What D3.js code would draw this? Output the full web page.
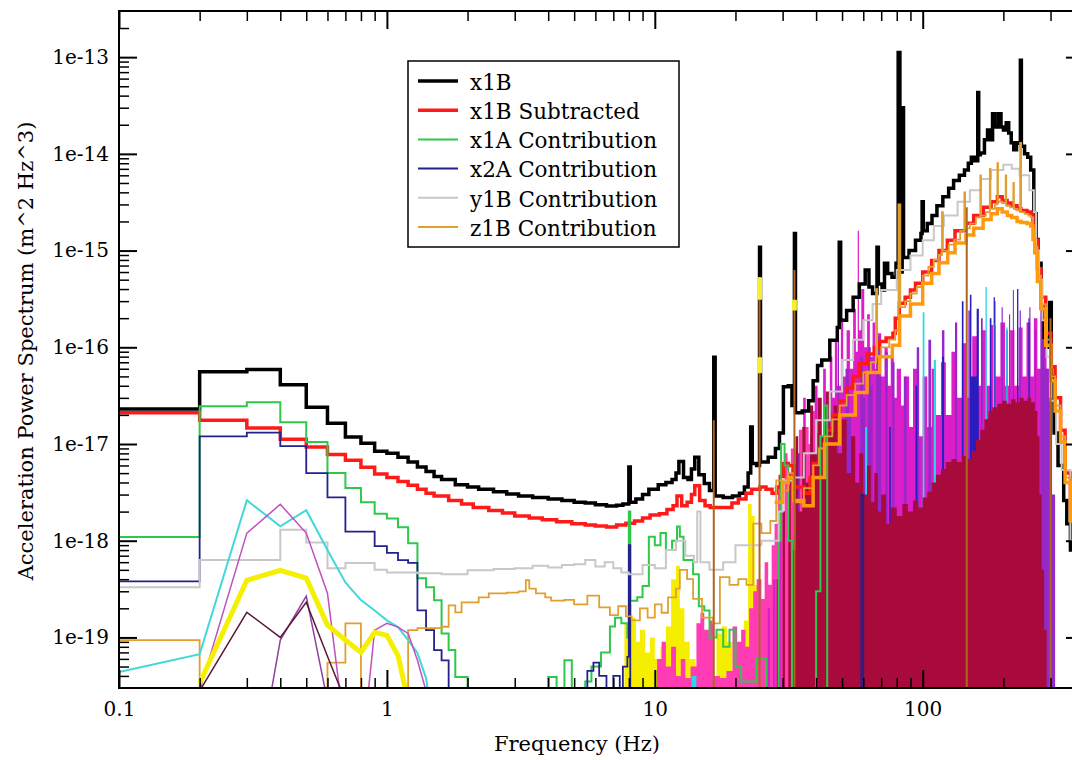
<!DOCTYPE html>
<html>
<head>
<meta charset="utf-8">
<title>Acceleration Power Spectrum</title>
<script src="https://d3js.org/d3.v7.min.js"></script>
<style>
  body { margin: 0; background: #fff; }
  svg { display: block; font-family: "DejaVu Serif", serif; }
</style>
</head>
<body>
<svg id="chart" width="1072" height="760"></svg>
<script>
// ---- data: [frequency Hz, power m^2 Hz^3] ----
const x1B = [[0.1,2.3e-17],[0.2,5.6e-17],[0.3,5.9e-17],[0.4,4.1e-17],[0.5,2.4e-17],[0.6,1.64e-17],[0.7,1.18e-17],[0.8,1.02e-17],[0.9,8.4e-18],[1.0,8.0e-18],[1.1,7.3e-18],[1.2,6.5e-18],[1.3,5.8e-18],[1.4,5.2e-18],[1.5,4.6e-18],[1.6,4.3e-18],[1.8,3.8e-18],[2.0,3.6e-18],[2.2,3.4e-18],[2.5,3.2e-18],[2.8,3.05e-18],[3.1,2.9e-18],[3.5,2.8e-18],[4.0,2.7e-18],[4.5,2.6e-18],[5.0,2.5e-18],[5.5,2.45e-18],[6.0,2.35e-18],[6.6,2.28e-18],[7.2,2.33e-18],[7.6,2.4e-18],[8.0,5.8e-18],[8.1,2.5e-18],[8.5,2.7e-18],[9.0,3.0e-18],[9.5,3.4e-18],[10.3,3.8e-18],[11.0,4.0e-18],[11.6,4.3e-18],[12.0,5.0e-18],[12.3,6.6e-18],[12.8,4.5e-18],[13.3,4.3e-18],[13.7,5.5e-18],[14.1,7.3e-18],[14.6,4.8e-18],[15.3,3.9e-18],[16.0,3.3e-18],[16.6,7.9e-17],[16.8,2.9e-18],[18.0,2.8e-18],[19.5,2.9e-18],[20.7,3.1e-18],[21.6,3.6e-18],[22.3,5.0e-18],[22.8,1.5e-17],[23.1,6.3e-18],[24.0,6.0e-18],[24.6,1.08e-15],[24.8,6.5e-18],[26.5,7.3e-18],[28.2,9.0e-18],[29.2,1.3e-17],[30.2,3.9e-17],[31.5,4.0e-17],[32.5,2.5e-17],[33.2,1.5e-15],[33.5,2.1e-17],[35.5,2.2e-17],[37.5,2.8e-17],[39.0,4.5e-17],[40.5,6.5e-17],[42.0,7.4e-17],[45.0,1.18e-16],[48.0,1.6e-16],[48.8,1.22e-15],[49.4,1.9e-16],[52,2.4e-16],[55,3.3e-16],[58,4.5e-16],[61,6.3e-16],[63,4.2e-16],[65,3.6e-16],[67.5,1.08e-15],[68.3,4.5e-16],[70.5,3.9e-16],[72,7.4e-16],[74,5.8e-16],[76.8,5.3e-16],[79.5,7.4e-16],[81.0,1.12e-13],[82.2,6.0e-16],[83.8,3.0e-14],[84.8,8.5e-16],[88.9,1.0e-15],[94,1.28e-15],[98.5,1.5e-15],[99.5,3.2e-15],[100.5,1.6e-15],[104,1.9e-15],[108.3,2.3e-15],[113,2.9e-15],[118.9,3.6e-15],[125,4.4e-15],[130.4,5.3e-15],[137,6.0e-15],[143.2,6.8e-15],[148,8.0e-15],[151.9,9.2e-15],[156,8.5e-15],[160.5,4.3e-14],[161.8,9.8e-15],[164,1.02e-14],[170,1.4e-14],[174.6,1.76e-14],[178,1.4e-14],[182.3,2.6e-14],[186,1.9e-14],[191.8,2.6e-14],[196,1.9e-14],[200.2,1.76e-14],[205,2.1e-14],[209.4,1.64e-14],[214,1.3e-14],[218.7,1.1e-14],[224,1.3e-14],[228.5,1.29e-14],[231.5,9.3e-14],[233.5,1.2e-14],[240,1.0e-14],[246.6,9.2e-15],[253,6.8e-15],[259.8,2.4e-15],[265,1.3e-15],[269.2,7.4e-16],[276.5,2.6e-16],[283.8,1.26e-16],[290,1.0e-16],[298,2.9e-16],[302,5.0e-17],[309.4,1.3e-17],[320,6.0e-18],[336,2.6e-18],[345,1.5e-18],[356,8e-19],[400,8e-19]];

const x1BSub = [[0.1,2.1e-17],[0.2,1.76e-17],[0.3,1.46e-17],[0.4,1.12e-17],[0.5,9.3e-18],[0.6,7.8e-18],[0.7,6.8e-18],[0.8,5.75e-18],[0.9,4.9e-18],[1.0,4.5e-18],[1.1,4.1e-18],[1.2,3.75e-18],[1.3,3.4e-18],[1.4,3.1e-18],[1.5,2.9e-18],[1.7,2.6e-18],[1.9,2.4e-18],[2.1,2.2e-18],[2.4,2.05e-18],[2.7,1.93e-18],[3.0,1.8e-18],[3.4,1.72e-18],[3.8,1.65e-18],[4.3,1.57e-18],[4.9,1.5e-18],[5.5,1.45e-18],[6.0,1.42e-18],[6.6,1.39e-18],[7.2,1.45e-18],[7.8,1.52e-18],[8.4,1.6e-18],[9.0,1.72e-18],[9.6,1.85e-18],[10.4,1.9e-18],[11.1,2.1e-18],[11.7,2.3e-18],[12.1,2.9e-18],[12.6,2.3e-18],[13.2,2.5e-18],[13.7,3.0e-18],[14.1,3.7e-18],[14.7,2.6e-18],[15.4,2.3e-18],[16.1,2.2e-18],[17.5,2.2e-18],[19.4,2.45e-18],[20.5,2.7e-18],[21.9,3.1e-18],[23.0,3.4e-18],[24.7,3.6e-18],[26.0,3.4e-18],[27.4,3.1e-18],[28.5,3.6e-18],[29.4,4.6e-18],[30.2,6.3e-18],[31.5,6.0e-18],[33.0,3.6e-18],[36.1,3.1e-18],[38.0,4.5e-18],[39.0,6.3e-18],[41.0,9.0e-18],[43.2,1.39e-17],[46.0,2.0e-17],[49.2,2.8e-17],[52.0,3.8e-17],[55.0,5.0e-17],[58.0,6.8e-17],[62.0,8.5e-17],[66.0,1.0e-16],[69.0,1.15e-16],[73.0,1.25e-16],[77.4,1.4e-16],[79.0,2.0e-16],[81.8,2.86e-16],[86.0,3.3e-16],[90.0,3.9e-16],[94.0,4.6e-16],[100,6.0e-16],[108,7.9e-16],[115,1.0e-15],[123.6,1.28e-15],[132,1.6e-15],[144.8,1.92e-15],[155,2.3e-15],[168.4,2.8e-15],[180,3.2e-15],[190,3.6e-15],[198,3.3e-15],[206.5,3.1e-15],[215,2.9e-15],[225,2.7e-15],[232.5,2.6e-15],[245,2.5e-15],[253,2.4e-15],[258,1.8e-15],[262,1.28e-15],[268,6.5e-16],[276.5,3.3e-16],[288,1.4e-16],[301,6.3e-17],[312,3.0e-17],[327,1.39e-17],[340,5.0e-18],[356,2.2e-18],[400,2.2e-18]];

const x1A = [[0.1,1.09e-18],[0.2,2.46e-17],[0.3,2.7e-17],[0.4,1.68e-17],[0.5,1.05e-17],[0.6,5.0e-18],[0.7,3.5e-18],[0.8,2.5e-18],[0.9,1.9e-18],[1.0,1.7e-18],[1.1,1.38e-18],[1.2,9.4e-19],[1.3,4.1e-19],[1.4,3.3e-19],[1.5,2.43e-19],[1.6,1.1e-19],[1.7,7.4e-20],[1.8,3.9e-20],[2.0,1e-21],[4.0,3.9e-20],[4.3,1e-21],[4.6,5.8e-20],[4.9,1e-21],[5.5,3.5e-20],[5.8,5.0e-20],[6.3,7.0e-20],[6.8,1.3e-19],[7.1,1.6e-19],[7.5,1.4e-19],[7.9,1.0e-19],[8.0,2.0e-18],[8.1,2.4e-19],[8.6,2.6e-19],[9.0,3.4e-19],[9.5,1.1e-18],[10.0,9.0e-19],[10.5,1.2e-18],[11.0,8.0e-19],[11.6,1.0e-18],[12.1,1.4e-18],[12.4,1.1e-18],[12.8,6.3e-19],[13.3,6.3e-19],[13.9,4.5e-19],[14.6,2.1e-19],[15.3,1.9e-19],[16.0,1.0e-19],[17.0,1.2e-19],[18.0,8.0e-20],[19.0,1.2e-19],[20.0,5.0e-20],[21.0,3.5e-20],[24.0,6.0e-20],[26.0,1e-21],[29.0,1.0e-18],[29.6,1.0e-17],[30.5,6.0e-18],[31.5,1.0e-18],[32.5,1e-21],[40.0,3.0e-19],[41.5,1.2e-17],[42.8,2.5e-17],[44.0,1e-21]];

const x2A = [[0.1,3.8e-19],[0.2,1.2e-17],[0.3,1.31e-17],[0.4,9.5e-18],[0.5,5.0e-18],[0.6,2.8e-18],[0.7,1.24e-18],[0.8,1.24e-18],[0.9,8.8e-19],[1.0,7.5e-19],[1.1,6.3e-19],[1.2,5.9e-19],[1.3,1.9e-19],[1.4,1.19e-19],[1.5,7.4e-20],[1.6,5.8e-20],[1.7,1e-21],[5.6,4.5e-20],[5.9,5.5e-20],[6.2,4.0e-20],[6.6,1e-21],[7.0,4.0e-20],[7.4,1e-21],[7.6,5.0e-20],[7.9,6.3e-20],[8.0,9.0e-19],[8.1,1e-21],[58,1e-21],[59,3e-18],[60,1e-21]];

const y1B = [[0.1,3.3e-19],[0.2,6.3e-19],[0.4,1.3e-18],[0.5,9.6e-19],[0.6,5.2e-19],[0.7,5.9e-19],[0.9,5.0e-19],[1.0,4.7e-19],[1.3,4.6e-19],[1.6,4.5e-19],[2.0,4.95e-19],[2.5,5.1e-19],[3.0,5.2e-19],[3.5,5.5e-19],[4.0,5.3e-19],[4.5,5.6e-19],[5.0,5.7e-19],[5.5,6.3e-19],[6.0,5.4e-19],[6.5,6.0e-19],[7.0,5.2e-19],[7.5,4.7e-19],[8.0,4.5e-19],[9.0,5.6e-19],[10.0,5.2e-19],[11.0,8.0e-19],[12.0,1.0e-18],[13.0,7.0e-19],[14.0,6.0e-19],[14.4,2.0e-18],[14.8,6.0e-19],[16.0,5.0e-19],[18.0,6.0e-19],[20.0,9.0e-19],[25.0,1.0e-18],[29.0,2.0e-18],[30.0,4.2e-18],[33.0,4.5e-18],[36.0,8.0e-18],[40.0,1.76e-17],[45.0,3.5e-17],[50.0,7.4e-17],[55.0,1.2e-16],[60.0,1.9e-16],[65.0,2.8e-16],[70.0,3.9e-16],[80.0,6.3e-16],[90.0,8.9e-16],[100,1.28e-15],[110,1.8e-15],[120,2.3e-15],[135,3.2e-15],[150,4.2e-15],[165,5.5e-15],[180,6.8e-15],[200,7.7e-15],[215,7.0e-15],[230,6.0e-15],[250,4.2e-15],[260,2.5e-15],[265,1.0e-15],[272,5.0e-16],[280,1.9e-16],[290,8.0e-17],[300,2.8e-17],[315,1.0e-17],[330,5.4e-18],[356,1.0e-18],[400,1.0e-18]];

const z1B = [[0.1,9.4e-20],[0.2,1e-21],[0.6,5.5e-20],[0.7,1.4e-19],[0.8,1e-21],[1.2,1.19e-19],[1.3,1.25e-19],[1.6,1.29e-19],[1.7,2.15e-19],[1.8,1.82e-19],[1.9,2.3e-19],[2.2,2.6e-19],[2.4,2.86e-19],[2.8,2.9e-19],[3.1,3.0e-19],[3.3,3.9e-19],[3.4,3.2e-19],[3.6,2.86e-19],[3.9,2.6e-19],[4.1,2.4e-19],[4.6,2.45e-19],[5.0,2.2e-19],[5.6,2.7e-19],[6.2,2.05e-19],[6.8,1.7e-19],[7.3,2.1e-19],[7.8,1.65e-19],[8.2,1.5e-19],[8.8,2.0e-19],[9.4,1.6e-19],[10.0,2.2e-19],[10.6,1.8e-19],[11.2,2.6e-19],[12.0,3.2e-19],[12.4,5.0e-19],[13.2,4.0e-19],[13.9,2.5e-19],[15.0,1.6e-19],[16.5,1.4e-19],[17.5,4.2e-19],[19.0,3.5e-19],[20.5,4.0e-19],[22.0,3.5e-19],[23.3,1.5e-18],[25.0,1.2e-18],[27.0,1.6e-18],[28.4,4.2e-18],[30.0,3.3e-18],[31.5,5.0e-18],[33.0,2.5e-18],[36.0,3.5e-18],[39.0,6.0e-18],[41.0,9.0e-18],[43.0,1.2e-17],[46.0,1.8e-17],[49.0,2.5e-17],[52.0,3.2e-17],[56.0,4.2e-17],[60.0,5.5e-17],[64.0,7.0e-17],[67.0,4.0e-16],[67.6,8.0e-17],[70.0,1.0e-16],[75.0,1.2e-16],[79.0,1.5e-16],[81.2,3.0e-15],[82.5,2.6e-16],[86.0,3.0e-16],[90.0,3.6e-16],[95.0,4.2e-16],[100,5.5e-16],[105,6.8e-16],[110,8.0e-16],[115,9.0e-16],[118,2.5e-15],[119,1.0e-15],[125,1.15e-15],[131,1.3e-15],[138,1.6e-15],[143,4.0e-15],[144,1.7e-15],[150,1.9e-15],[158,2.2e-15],[164,6.0e-15],[165,2.3e-15],[172,2.5e-15],[178,7.0e-15],[179,2.7e-15],[186,3.0e-15],[190,8.0e-15],[191,3.2e-15],[198,3.1e-15],[204,6.0e-15],[205,2.9e-15],[212,2.8e-15],[218,5.0e-15],[219,2.7e-15],[226,2.6e-15],[231,1.3e-14],[233,2.5e-15],[240,2.4e-15],[248,2.3e-15],[253,2.2e-15],[258,1.6e-15],[262,1.1e-15],[268,5.5e-16],[276,2.8e-16],[288,1.2e-16],[301,5.0e-17],[312,2.5e-17],[327,1.2e-17],[340,4.5e-18],[356,1.8e-18],[400,1.8e-18]];

// unlabelled contributions
const orangeBand = [[28,2.5e-18],[30,4e-18],[31.5,4.5e-18],[33,2.6e-18],[36,2.3e-18],[39,4.5e-18],[43,1e-17],[49,2e-17],[56,3.4e-17],[62,5.5e-17],[69,8e-17],[77,1.05e-16],[82,2.1e-16],[90,2.8e-16],[100,4.6e-16],[108,5.8e-16],[115,7.5e-16],[124,9.5e-16],[132,1.2e-15],[145,1.45e-15],[155,1.7e-15],[168,2.1e-15],[180,2.4e-15],[190,2.7e-15],[198,2.5e-15],[207,2.3e-15],[215,2.2e-15],[225,2e-15],[233,1.95e-15],[245,1.9e-15],[253,1.8e-15],[258,1.3e-15],[262,9.5e-16],[268,4.8e-16],[276,2.5e-16],[288,1.05e-16],[301,4.5e-17],[312,2.2e-17],[327,1.05e-17],[340,4e-18],[356,1.6e-18],[400,1.6e-18]];
const cyanLine = [[0.1,4.4e-20],[0.2,6.7e-20],[0.3,2.62e-18],[0.4,1.41e-18],[0.5,2.07e-18],[0.6,8.0e-19],[0.7,3.7e-19],[0.8,2.43e-19],[0.9,1.9e-19],[1.0,1.5e-19],[1.1,1.28e-19],[1.2,9.4e-20],[1.3,6.9e-20],[1.4,3.8e-20],[1.5,1e-20]];
const orchidLine = [[0.2,2.8e-20],[0.3,1.2e-18],[0.4,2.38e-18],[0.5,1.2e-18],[0.6,2.86e-19],[0.7,9.5e-21],[0.8,5e-21],[0.9,1.19e-19],[1.0,1.4e-19],[1.1,1.28e-19],[1.2,1.1e-19],[1.3,5.8e-20],[1.4,2.8e-20],[1.5,5e-21]];
const purpleLine = [[0.3,1e-21],[0.4,9.4e-20],[0.5,2.67e-19],[0.6,2.2e-20]];
const darkLine = [[0.2,2.8e-20],[0.3,1.82e-19],[0.4,1.0e-19],[0.5,2.31e-19],[0.6,6.4e-20],[0.7,2.2e-20]];
const yellowLine = [[0.2,3.36e-20],[0.3,3.9e-19],[0.4,4.95e-19],[0.5,4.1e-19],[0.6,1.34e-19],[0.7,9.4e-20],[0.8,7.0e-20],[0.9,1.13e-19],[1.0,1.05e-19],[1.1,6.5e-20],[1.2,2.2e-20]];

const yellowMass = [[7.4,1e-21],[7.7,1.4e-19],[7.9,2.2e-19],[8.2,1.6e-19],[8.5,9e-20],[8.8,1.2e-19],[9.2,7e-20],[9.6,1.0e-19],[10.0,6e-20],[10.5,8e-20],[11.0,1.3e-19],[11.5,4.0e-19],[12.0,5.5e-19],[12.4,2.0e-19],[12.9,9e-20],[13.5,6e-20],[14.2,5e-20],[15.0,8e-20],[15.8,5e-20],[16.6,1e-21],[17.0,1.1e-19],[17.8,1.3e-19],[18.6,9e-20],[19.5,1e-21],[21.5,1.5e-19],[22.3,2.4e-18],[23.0,1.8e-18],[23.6,3.5e-19],[24.4,1e-21],[28.6,2.5e-19],[29.6,1e-21]];
const pinkMass = [[9.8,1e-21],[10.2,6e-20],[10.6,9e-20],[11.0,5e-20],[11.5,8e-20],[12.0,4e-20],[12.5,6e-20],[13.0,3.8e-20],[13.6,5e-20],[14.3,1.4e-19],[14.8,1.8e-19],[15.3,1.2e-19],[16.0,1.5e-19],[16.6,4e-20],[17.5,3.8e-20],[18.5,4.5e-20],[19.5,1.3e-19],[20.3,9e-20],[21.0,1.2e-19],[21.8,8e-20],[22.5,2.0e-19],[23.3,3e-19],[24.0,4e-19],[25.0,2.5e-19],[25.7,6e-19],[26.5,3.5e-19],[27.3,9e-19],[28.0,1.5e-18],[28.8,3.5e-18],[29.6,2.0e-18],[30.5,8e-18],[31.3,4e-18],[32.2,9e-18],[33.5,6e-18],[34.5,1.4e-17],[35.5,8e-18],[36.5,1.5e-17],[37.5,1.0e-17],[38.5,2.2e-17],[40,1.3e-17],[41.5,1e-21]];
const magentaMass = [[26,1e-21],[26.4,2.0e-19],[26.9,1e-21],[27.6,4.0e-19],[28.2,1e-21],[29.0,1.2e-18],[29.7,1e-21],[35.8,3e-17],[36.6,1e-21],[39.5,4e-17],[40.5,1e-21],[42.5,6e-17],[43.5,2.5e-17],[45,8e-17],[46,3e-17],[47,1.2e-16],[48,4e-17],[49.5,2.0e-16],[50.5,5e-17],[52,1.5e-16],[53.5,6e-17],[55,2.5e-16],[56.3,9e-17],[57.2,1.6e-15],[57.8,1.5e-16],[59,4e-16],[60.5,1e-16],[62,2.2e-16],[63.5,8e-17],[65,1.8e-16],[66.5,6e-17],[68,1.4e-16],[70,5e-17],[72,1.0e-16],[74,4e-17],[76,8e-17],[78,3e-17],[80,6e-17],[83,2.5e-17],[86,5e-17],[89,1.5e-17],[92,6e-17],[96,1.2e-17],[100,5e-17],[104,1.5e-17],[108,6e-17],[112,2e-17],[117,7e-17],[122,2e-17],[128,9e-17],[134,3e-17],[140,1.1e-16],[146,3e-17],[153,1.3e-16],[160,4e-17],[166,1.5e-16],[173,4e-17],[180,1.7e-16],[187,5e-17],[195,1.8e-16],[203,4e-17],[212,1.5e-16],[220,4e-17],[228,1.6e-16],[236,5e-17],[244,1.8e-16],[252,5e-17],[260,2.0e-16],[268,6e-17],[276,2.1e-16],[283,1.2e-16],[290,6e-17],[296,1.5e-17],[302,2e-18],[308,1e-21]];
const purpleMass = [[33.5,1e-21],[34,8e-18],[34.8,1e-21],[38,1.2e-17],[38.8,1e-21],[44,2.2e-17],[44.8,1e-21],[48.2,4.9e-16],[48.7,1e-21],[51.5,6e-17],[53,2e-17],[54,1e-21],[58.5,8e-17],[59.8,3e-17],[61,1e-21],[62.5,1e-16],[64,4e-17],[65,1e-21],[67,1.3e-16],[69,5e-17],[70,1e-21],[72.5,9e-17],[74,1e-21],[77,7e-17],[78.5,1e-21],[85,5e-17],[87,1e-21],[95,1e-16],[97,1e-21],[105,1.2e-16],[107.5,1e-21],[118,1.5e-16],[120.5,1e-21],[132,1.8e-16],[134.5,1e-21],[148,2.4e-16],[150,1e-21],[165,2e-16],[167.5,1e-21],[185,3e-16],[187,1e-21],[197,2.6e-16],[199,1e-21],[210,2.2e-16],[212,1e-21],[217,3.9e-16],[219,1e-21],[230,2.4e-16],[232.5,1e-21],[250,2.6e-16],[252.5,1e-21],[262,1.5e-16],[265,1e-21],[275,2.8e-16],[280,1.2e-16],[285,6e-17],[295,3e-17],[304,3e-18],[312,1e-21]];
const blueMass = [[57,1e-21],[58.5,3e-18],[61,5e-18],[63.5,2.5e-18],[66,1e-21],[74,1e-21],[75,1.5e-17],[76,1e-21],[93,1e-21],[94,4e-17],[95.5,1e-21],[117,1e-21],[118,8e-17],[120,1e-21],[139,1e-21],[140,3e-16],[142,1e-21],[149,1e-21],[150,3.5e-16],[152,5e-17],[159,2.5e-16],[162,1e-21],[177,1e-21],[178,2e-16],[180.5,1e-21],[183,1e-21],[184,3.3e-16],[186,1e-21],[204,1e-21],[205,1.5e-16],[207.5,1e-21],[224,1e-21],[225,4e-16],[227.5,1e-21],[247,1e-21],[248,2e-16],[250.5,1e-21]];
const cyanMass = [[13.3,1e-21],[13.7,4e-20],[14.3,1e-21],[60,1e-21],[61,1.5e-17],[62,1e-21],[99,1e-21],[100,2.3e-16],[101.5,1e-21],[109,1e-21],[110,7.4e-17],[112,1e-21],[170,1e-21],[171.5,4.2e-16],[173.5,1e-21],[182,1e-21],[183,1.8e-16],[185,1e-21],[204,1e-21],[205,1.6e-16],[207.5,1e-21]];
const crimsonMass = [[28.0,1e-21],[28.5,4e-19],[29.2,1e-21],[30.0,2e-18],[30.6,1e-21],[31.5,5e-18],[32.2,8e-19],[33.5,1.2e-17],[34.3,2e-18],[35.5,1.5e-17],[36.5,4e-18],[38,2.5e-17],[39,8e-18],[40.5,3e-17],[42,1.2e-17],[43.5,3.5e-17],[45,1.5e-17],[46.5,2.5e-17],[48,8e-18],[50,1.8e-17],[52,5e-18],[54,1.2e-17],[56,4e-18],[58,8e-18],[60,3e-18],[62,6e-18],[64,2.5e-18],[66,5e-18],[68,2e-18],[70,3e-18],[73,1.5e-18],[76,2.2e-18],[80,1.8e-18],[84,2.4e-18],[88,2.0e-18],[92,2.6e-18],[96,2.2e-18],[100,2.8e-18],[104,3.2e-18],[108,4e-18],[112,4.8e-18],[117,5.5e-18],[122,6.5e-18],[128,7e-18],[134,6.5e-18],[140,7.5e-18],[146,7e-18],[152,8.5e-18],[158,1.1e-17],[164,1.4e-17],[170,1.8e-17],[176,2.2e-17],[182,2.4e-17],[190,2.6e-17],[198,2.8e-17],[206,2.6e-17],[214,2.9e-17],[222,2.7e-17],[230,3e-17],[238,2.8e-17],[246,3e-17],[254,2.7e-17],[262,2.2e-17],[268,1.2e-17],[273,3e-18],[278,5e-19],[284,1.2e-19],[290,1e-21]];

const brownSpikes = [[16.6,1.76e-17],[24.6,5.3e-16],[33.2,6.3e-16],[146,2.8e-15],[300,2.0e-16]];
const yellowPatches = [[24.6,3.1e-16,5.3e-16],[24.6,5.4e-17,7.9e-17],[33.2,2.4e-16,3.1e-16]];

const legendNames = ["x1B","x1B Subtracted","x1A Contribution","x2A Contribution","y1B Contribution","z1B Contribution"];
const xTickValues = [0.1, 1, 10, 100];
const xTickLabels = ["0.1", "1", "10", "100"];
const yTickValues = [1e-19, 1e-18, 1e-17, 1e-16, 1e-15, 1e-14, 1e-13];
const yTickLabels = ["1e-19", "1e-18", "1e-17", "1e-16", "1e-15", "1e-14", "1e-13"];

// ---- layout ----
const plot = {left: 119, right: 1084, top: 11, bottom: 688};
const x = d3.scaleLog().domain([0.1, 400]).range([plot.left, plot.right]);
const y = d3.scaleLog().domain([3e-20, 3e-13]).range([plot.bottom, plot.top]);

const svg = d3.select("#chart");
svg.append("rect").attr("width", 1072).attr("height", 760).attr("fill", "#fff");

svg.append("defs").append("clipPath").attr("id", "plotclip")
  .append("rect")
  .attr("x", plot.left).attr("y", plot.top)
  .attr("width", plot.right - plot.left).attr("height", plot.bottom - plot.top);

const g = svg.append("g").attr("clip-path", "url(#plotclip)");

const stepLine = d3.line().x(d => x(d[0])).y(d => y(d[1])).curve(d3.curveStepAfter);
const straightLine = d3.line().x(d => x(d[0])).y(d => y(d[1]));
const stepArea = d3.area()
  .x(d => x(d[0]))
  .y0(plot.bottom)
  .y1(d => Math.min(y(d[1]), plot.bottom))
  .curve(d3.curveStepAfter);

// dense contributions at high frequency, crimson last (on top)
[[yellowMass, "#f6ee00"], [pinkMass, "#ff3cb4"], [magentaMass, "#dc1ec8"],
 [purpleMass, "#9428c8"], [blueMass, "#2a1cbe"], [cyanMass, "#2cd8e6"],
 [crimsonMass, "#a80a3c"]].forEach(([data, color]) => {
  g.append("path").datum(data).attr("d", stepArea).attr("fill", color);
});

function drawLine(data, color, width, gen) {
  g.append("path").datum(data)
    .attr("d", gen || stepLine)
    .attr("fill", "none")
    .attr("stroke", color)
    .attr("stroke-width", width)
    .attr("stroke-linejoin", "miter");
}

drawLine(x1B, "#000000", 3.5);
drawLine(x1BSub, "#ff1a1a", 3.5);
drawLine(x1A, "#2ec84a", 2);
drawLine(x2A, "#22228a", 1.8);
drawLine(y1B, "#c8c8c8", 2);
drawLine(z1B, "#e0a030", 1.8);
drawLine(orangeBand, "#ff9a10", 3.5);
drawLine(cyanLine, "#40d8d8", 2, straightLine);
drawLine(orchidLine, "#c050c0", 1.5, straightLine);
drawLine(purpleLine, "#9040a0", 1.5, straightLine);
drawLine(darkLine, "#5a1838", 1.5, straightLine);
drawLine(yellowLine, "#f5f000", 5, straightLine);

g.selectAll("line.brown").data(brownSpikes).join("line")
  .attr("class", "brown")
  .attr("x1", d => x(d[0])).attr("x2", d => x(d[0]))
  .attr("y1", plot.bottom).attr("y2", d => y(d[1]))
  .attr("stroke", "#b0651f").attr("stroke-width", 2);

g.selectAll("line.patch").data(yellowPatches).join("line")
  .attr("class", "patch")
  .attr("x1", d => x(d[0])).attr("x2", d => x(d[0]))
  .attr("y1", d => y(d[1])).attr("y2", d => y(d[2]))
  .attr("stroke", "#f6ee30").attr("stroke-width", 5);

// ---- axes ----
const minorX = [];
[0.1, 1, 10, 100].forEach(b => { for (let k = 2; k <= 9; k++) if (b * k < 400) minorX.push(b * k); });
const minorY = [];
for (let e = -20; e <= -13; e++) for (let k = 2; k <= 9; k++) {
  const v = k * Math.pow(10, e);
  if (v > 3.01e-20 && v < 2.99e-13) minorY.push(v);
}

function styleAxis(sel, width) {
  sel.select(".domain").remove();
  sel.selectAll(".tick line").attr("stroke", "#000").attr("stroke-width", width);
  sel.selectAll("text").attr("font-family", "DejaVu Serif, serif").attr("font-size", 20).attr("fill", "#000");
}

svg.append("g").attr("transform", `translate(0,${plot.bottom})`)
  .call(d3.axisBottom(x).tickValues(xTickValues).tickSizeInner(-18).tickSizeOuter(0)
    .tickPadding(14).tickFormat((d, i) => xTickLabels[i]))
  .call(s => styleAxis(s, 2));
svg.append("g").attr("transform", `translate(0,${plot.bottom})`)
  .call(d3.axisBottom(x).tickValues(minorX).tickSizeInner(-10).tickSizeOuter(0).tickFormat(""))
  .call(s => styleAxis(s, 1.5));
svg.append("g").attr("transform", `translate(0,${plot.top})`)
  .call(d3.axisTop(x).tickValues(xTickValues).tickSizeInner(-18).tickSizeOuter(0).tickFormat(""))
  .call(s => styleAxis(s, 2));
svg.append("g").attr("transform", `translate(0,${plot.top})`)
  .call(d3.axisTop(x).tickValues(minorX).tickSizeInner(-10).tickSizeOuter(0).tickFormat(""))
  .call(s => styleAxis(s, 1.5));

svg.append("g").attr("transform", `translate(${plot.left},0)`)
  .call(d3.axisLeft(y).tickValues(yTickValues).tickSizeInner(-18).tickSizeOuter(0)
    .tickPadding(10).tickFormat((d, i) => yTickLabels[i]))
  .call(s => styleAxis(s, 2));
svg.append("g").attr("transform", `translate(${plot.left},0)`)
  .call(d3.axisLeft(y).tickValues(minorY).tickSizeInner(-10).tickSizeOuter(0).tickFormat(""))
  .call(s => styleAxis(s, 1.5));
svg.append("g").attr("transform", `translate(${plot.right},0)`)
  .call(d3.axisRight(y).tickValues(yTickValues).tickSizeInner(-18).tickSizeOuter(0).tickFormat(""))
  .call(s => styleAxis(s, 2));
svg.append("g").attr("transform", `translate(${plot.right},0)`)
  .call(d3.axisRight(y).tickValues(minorY).tickSizeInner(-10).tickSizeOuter(0).tickFormat(""))
  .call(s => styleAxis(s, 1.5));

svg.append("rect")
  .attr("x", plot.left).attr("y", plot.top)
  .attr("width", plot.right - plot.left).attr("height", plot.bottom - plot.top)
  .attr("fill", "none").attr("stroke", "#000").attr("stroke-width", 2);

// axis titles
svg.append("text")
  .attr("x", 577).attr("y", 751)
  .attr("text-anchor", "middle").attr("font-size", 21)
  .text("Frequency (Hz)");
svg.append("text")
  .attr("transform", "translate(33,351) rotate(-90)")
  .attr("text-anchor", "middle").attr("font-size", 21)
  .text("Acceleration Power Spectrum (m^2 Hz^3)");

// ---- legend ----
const legendColors = ["#000000", "#ff1a1a", "#2ec84a", "#22228a", "#c8c8c8", "#e0a030"];
const legendWidths = [3.5, 3.5, 2, 2, 2, 2];
const legend = svg.append("g");
legend.append("rect")
  .attr("x", 408).attr("y", 61).attr("width", 271).attr("height", 186)
  .attr("fill", "#fff").attr("stroke", "#000").attr("stroke-width", 1.5);
legendNames.forEach((name, i) => {
  const ly = 81 + i * 29.2;
  legend.append("line")
    .attr("x1", 418).attr("x2", 458).attr("y1", ly).attr("y2", ly)
    .attr("stroke", legendColors[i]).attr("stroke-width", legendWidths[i]);
  legend.append("text")
    .attr("x", 470).attr("y", ly + 1).attr("dy", "0.36em")
    .attr("font-size", 21.5)
    .text(name);
});
</script>
</body>
</html>
